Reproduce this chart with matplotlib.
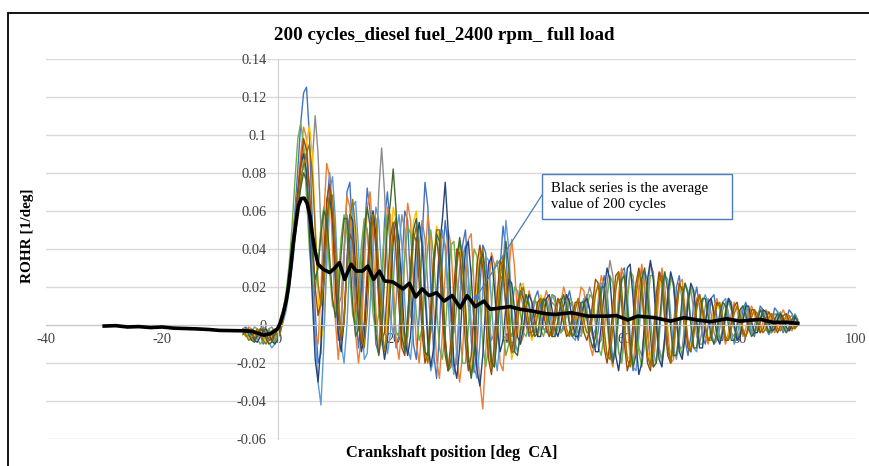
import numpy as np
import matplotlib
matplotlib.use('Agg')
import matplotlib.pyplot as plt
from matplotlib.patches import Rectangle

plt.rcParams['font.family'] = ['Liberation Serif', 'DejaVu Serif']

# crank angle grid of the individual cycles: -6 .. 90 deg every 0.5 deg
crank_start = -6.0
crank_step = 0.5

# individual cycles, ROHR in 1e-3 1/deg (a few of the 200)
cycle_1 = [-2, -1, -4, -8, -6, -2, -5, -10, -8, -3, -4, -8, -6, 2, 8, 14, 26, 42, 60, 82,
           106, 122, 125, 100, 55, 8, -20, -15, 20, 62, 80, 60, 20, -8, -2, 35, 70, 75, 45, 8,
           -12, 5, 45, 72, 60, 22, -10, -15, 15, 55, 70, 50, 12, -12, -5, 30, 60, 55, 20, -10,
           -18, 5, 45, 75, 62, 20, -15, -28, -5, 35, 55, 40, 5, -22, -20, 10, 42, 50, 25, -8,
           -25, -12, 20, 42, 38, 10, -18, -22, 2, 30, 52, 40, 8, -15, -12, 10, 22, 15, 0, -6,
           2, 14, 18, 10, -2, -4, 6, 16, 15, 4, -4, 0, 12, 18, 10, -2, -8, 0, 12, 16,
           8, -6, -12, -2, 16, 26, 18, -4, -18, -12, 10, 28, 30, 10, -14, -24, -8, 18, 30, 20,
           -4, -20, -16, 6, 26, 28, 8, -14, -18, -2, 20, 26, 12, -8, -16, -6, 12, 20, 10, -6,
           -10, 0, 14, 16, 4, -8, -8, 4, 14, 12, 0, -8, -4, 8, 12, 6, -4, -6, 2, 10,
           8, -2, -5, 2, 9, 7, -1, -4, 2, 8, 6, -1, 1]
cycle_2 = [-4, -3, -1, -2, -5, -7, -4, -1, -2, -6, -9, -7, -2, 4, 9, 16, 28, 40, 56, 72,
           90, 104, 98, 70, 30, -5, -10, 18, 58, 85, 78, 40, 2, -18, 0, 40, 68, 62, 28, -5,
           -20, -5, 30, 62, 70, 45, 8, -15, -5, 30, 62, 58, 25, -8, -18, 0, 38, 64, 55, 20,
           -10, -20, 0, 35, 58, 45, 10, -18, -28, -5, 28, 50, 42, 12, -18, -30, -15, 18, 45, 48,
           20, -10, -30, -44, -15, 18, 38, 32, 5, -20, -24, -2, 28, 45, 30, 5, -10, -6, 8, 18,
           12, 0, -6, 0, 12, 18, 12, 2, -4, 2, 12, 20, 14, 2, -6, -2, 10, 20, 18, 4,
           -10, -16, -4, 14, 26, 20, 2, -16, -22, -6, 16, 30, 24, 2, -18, -22, -4, 20, 32, 22,
           0, -18, -22, -4, 18, 30, 20, -2, -20, -18, 4, 22, 24, 8, -10, -14, 0, 14, 16, 6,
           -6, -10, -2, 10, 14, 8, -4, -10, -4, 6, 12, 8, -2, -6, -2, 6, 10, 6, -2, -4,
           2, 8, 6, 0, -4, -1, 5, 8, 4, -2, -3, 2, 1]
cycle_3 = [-3, -5, -6, -4, -1, -2, -5, -8, -6, -2, -1, -4, -7, -3, 3, 10, 20, 34, 50, 66,
           80, 92, 88, 70, 85, 110, 90, 50, 30, 45, 65, 55, 30, 10, 15, 40, 58, 50, 25, 12,
           12, 30, 55, 50, 32, 10, 30, 70, 93, 70, 30, 5, -5, 12, 40, 58, 50, 25, 5, 0,
           18, 42, 55, 45, 20, 0, -8, 8, 32, 48, 42, 20, 2, -4, 10, 30, 40, 30, 10, -4,
           0, 18, 34, 36, 22, 4, -8, -4, 12, 26, 24, 10, -2, -6, 2, 12, 16, 10, 2, 0,
           6, 12, 12, 4, -2, -2, 6, 12, 10, 2, -4, -2, 6, 12, 10, 2, -4, -4, 4, 14,
           20, 14, 0, -10, -8, 6, 22, 34, 26, 4, -14, -20, -4, 16, 28, 22, 4, -12, -16, -2,
           18, 32, 28, 8, -12, -18, -6, 14, 26, 20, 2, -12, -12, 2, 16, 18, 8, -6, -10, -2,
           10, 14, 6, -4, -8, -2, 8, 12, 6, -4, -6, 0, 8, 10, 4, -2, -4, 0, 6, 8,
           4, -2, -3, 2, 6, 5, 0, -3, 0, 4, 5, 2, 1]
cycle_4 = [-2, -4, -7, -8, -5, -2, -3, -6, -9, -8, -5, -3, -4, 0, 6, 12, 22, 34, 48, 64,
           78, 88, 96, 105, 90, 55, 15, -8, 0, 30, 58, 65, 45, 15, -5, 0, 28, 55, 62, 42,
           12, -8, -4, 22, 50, 60, 45, 15, -10, -14, 8, 40, 62, 55, 25, -5, -14, 2, 32, 54,
           60, 40, 8, -16, -18, 4, 34, 52, 45, 18, -10, -22, -12, 14, 38, 44, 28, 0, -20, -22,
           -4, 22, 38, 36, 15, -10, -24, -16, 8, 30, 35, 20, -4, -18, -12, 6, 20, 22, 10, -2,
           -8, -2, 10, 16, 12, 2, -6, -4, 6, 14, 12, 4, -4, -6, 2, 10, 14, 8, 0, -4,
           -2, 8, 18, 20, 10, -6, -16, -12, 4, 20, 26, 16, -4, -18, -16, 0, 18, 26, 18, 0,
           -14, -18, -6, 12, 24, 20, 4, -12, -16, -4, 12, 22, 16, 0, -12, -12, 0, 12, 14, 6,
           -4, -8, -2, 8, 12, 8, -2, -8, -6, 2, 10, 10, 2, -4, -6, 0, 6, 8, 4, -2,
           -4, 0, 5, 6, 2, -2, -2, 2, 5, 4, 0, -2, 0]
cycle_5 = [-3, -2, -4, -7, -9, -6, -2, -1, -4, -9, -12, -10, -6, -2, 2, 8, 18, 30, 44, 60,
           74, 86, 82, 60, 25, -5, -30, -42, -10, 35, 70, 78, 55, 20, -10, -20, 0, 35, 62, 65,
           40, 5, -18, -15, 10, 42, 62, 55, 28, 0, -15, -5, 22, 48, 58, 42, 12, -12, -18, 0,
           30, 52, 50, 25, -5, -24, -18, 8, 36, 50, 40, 12, -14, -26, -14, 12, 35, 42, 26, 0,
           -22, -28, -10, 18, 36, 34, 12, -14, -24, -6, 30, 55, 40, 10, -8, -14, -6, 8, 16, 12,
           2, -4, -4, 4, 12, 14, 8, -2, -6, -2, 8, 14, 12, 2, -6, -8, 0, 10, 14, 8,
           0, -6, -2, 10, 22, 22, 8, -10, -20, -14, 4, 22, 28, 16, -6, -22, -24, -6, 16, 28,
           24, 4, -14, -20, -8, 12, 26, 24, 6, -12, -18, -8, 10, 22, 18, 2, -12, -14, -2, 12,
           16, 10, -2, -10, -8, 2, 12, 14, 6, -4, -10, -6, 4, 10, 10, 2, -4, -4, 2, 8,
           8, 2, -4, -4, 2, 7, 6, 0, -4, -2, 3, 6, 3]
cycle_6 = [-4, -6, -5, -2, -3, -7, -10, -8, -4, -2, -5, -9, -6, 0, 8, 18, 32, 52, 76, 98,
           106, 95, 68, 40, 22, 18, 32, 52, 62, 50, 28, 10, 8, 24, 46, 58, 48, 25, 5, 0,
           18, 42, 56, 50, 28, 6, -4, 6, 28, 50, 58, 42, 15, -4, -6, 12, 35, 52, 48, 28,
           6, -8, -2, 20, 42, 50, 36, 10, -12, -18, -4, 22, 42, 44, 24, -2, -20, -20, -2, 24,
           40, 36, 14, -10, -22, -12, 10, 30, 34, 18, -4, -16, -10, 8, 20, 18, 6, -4, -6, 2,
           10, 14, 8, -2, -6, 0, 10, 16, 12, 2, -4, -2, 8, 14, 12, 4, -4, -6, 0, 8,
           16, 14, 2, -12, -16, -4, 14, 26, 22, 4, -14, -20, -8, 12, 28, 26, 6, -14, -22, -10,
           10, 26, 26, 8, -12, -20, -10, 10, 24, 22, 6, -10, -16, -6, 10, 20, 16, 2, -10, -10,
           2, 12, 14, 6, -4, -8, -2, 8, 12, 8, -2, -6, -4, 4, 10, 8, 0, -4, -2, 4,
           8, 6, 0, -4, -2, 4, 7, 4, -2, -3, 1, 5, 2]
cycle_7 = [-3, -4, -3, -5, -8, -9, -6, -3, -2, -5, -8, -10, -8, -2, 5, 12, 22, 36, 54, 70,
           84, 90, 80, 50, 15, -18, -30, -10, 25, 55, 68, 55, 25, -4, -14, 2, 35, 58, 55, 30,
           2, -14, -6, 20, 48, 60, 48, 20, -6, -18, -8, 18, 44, 56, 44, 18, -6, -16, -6, 18,
           44, 54, 42, 16, -10, -22, -12, 14, 42, 55, 75, 50, 10, -20, -28, -12, 16, 40, 44, 26,
           0, -24, -32, -16, 10, 32, 36, 20, -2, -14, -8, 10, 24, 22, 8, -6, -10, -2, 10, 16,
           12, 2, -6, -6, 4, 14, 16, 8, -2, -6, 0, 10, 16, 12, 2, -6, -6, 2, 12, 14,
           8, -4, -14, -14, 0, 18, 30, 24, 4, -16, -24, -12, 10, 30, 32, 14, -10, -26, -20, 2,
           24, 34, 24, 2, -18, -22, -6, 16, 28, 22, 4, -14, -18, -6, 12, 22, 18, 2, -12, -12,
           0, 12, 14, 6, -6, -10, -4, 6, 14, 10, 0, -8, -6, 2, 10, 10, 2, -4, -4, 2,
           8, 7, 1, -3, -2, 3, 6, 3, -1, -3, 0, 4, 2]
cycle_8 = [-5, -3, -2, -4, -7, -6, -3, -2, -5, -8, -7, -3, -1, 2, 7, 14, 24, 38, 52, 68,
           84, 98, 92, 72, 45, 20, 5, 12, 38, 66, 74, 58, 30, 5, -8, 5, 30, 48, 44, 22,
           0, -10, 2, 28, 52, 58, 40, 12, -8, -4, 20, 46, 54, 38, 10, -12, -16, 4, 30, 48,
           44, 22, -4, -20, -14, 10, 36, 46, 32, 6, -16, -24, -8, 20, 40, 38, 16, -10, -24, -16,
           8, 32, 42, 30, 4, -18, -26, -10, 16, 34, 30, 10, -8, -14, -4, 10, 18, 14, 4, -4,
           -4, 4, 12, 14, 6, -2, -6, -2, 8, 14, 10, 0, -6, -4, 4, 12, 12, 4, -4, -8,
           -2, 12, 24, 22, 6, -12, -20, -10, 10, 26, 28, 12, -10, -24, -18, 2, 22, 30, 20, -2,
           -20, -24, -6, 16, 28, 22, 2, -16, -20, -6, 12, 22, 18, 2, -12, -14, -2, 12, 16, 8,
           -2, -8, -6, 4, 12, 10, 0, -8, -8, 0, 10, 12, 4, -4, -6, 0, 8, 8, 2, -4,
           -2, 4, 7, 4, -1, -4, 0, 5, 6, 2, -2, -1, 1]
cycle_9 = [-2, -5, -8, -7, -4, -2, -4, -8, -10, -7, -3, -2, -6, -4, 4, 11, 20, 32, 46, 62,
           76, 84, 90, 95, 80, 50, 22, 10, 22, 48, 70, 68, 42, 12, -6, 2, 30, 56, 66, 50,
           20, -6, -12, 6, 36, 58, 56, 30, 0, -14, -4, 26, 52, 56, 34, 6, -10, -6, 20, 44,
           52, 36, 8, -14, -20, -2, 28, 50, 50, 26, -6, -24, -22, 2, 30, 44, 36, 10, -16, -26,
           -14, 12, 34, 40, 24, -4, -22, -20, 0, 24, 36, 26, 2, -14, -14, 0, 16, 20, 12, 0,
           -6, -4, 6, 14, 12, 4, -4, -6, 2, 12, 14, 8, -2, -6, -2, 8, 14, 10, 2, -4,
           -4, 4, 16, 22, 14, -2, -16, -18, -2, 18, 28, 20, 0, -18, -22, -6, 14, 28, 24, 4,
           -16, -22, -12, 8, 24, 26, 10, -10, -20, -12, 6, 20, 20, 6, -8, -14, -6, 8, 16, 10,
           0, -8, -8, 2, 10, 12, 4, -6, -8, -2, 6, 10, 6, -2, -6, -2, 4, 8, 6, 0,
           -4, -2, 4, 6, 3, -2, -3, 1, 5, 5, 1, -2, 0]
cycle_10 = [-3, -2, -5, -8, -9, -5, -2, -3, -7, -10, -9, -5, -2, 1, 6, 12, 21, 33, 47, 61,
            72, 80, 76, 60, 38, 24, 30, 48, 60, 56, 36, 14, 4, 14, 38, 56, 56, 36, 10, -6,
            -2, 20, 48, 62, 52, 24, -4, -16, -4, 24, 52, 64, 82, 60, 22, -6, -14, 2, 28, 50,
            56, 38, 8, -14, -16, 2, 30, 48, 44, 20, -8, -24, -18, 6, 34, 46, 34, 8, -18, -28,
            -16, 10, 32, 38, 24, -2, -20, -22, -6, 14, 28, 44, 30, 4, -14, -16, -4, 10, 16, 10,
            0, -6, -4, 6, 14, 12, 2, -6, -6, 2, 12, 16, 10, 0, -6, -4, 4, 12, 12, 4,
            -6, -12, -6, 8, 20, 20, 6, -12, -20, -10, 8, 24, 26, 10, -10, -22, -16, 4, 24, 30,
            16, -6, -22, -20, -2, 18, 28, 18, -2, -16, -16, -2, 14, 22, 16, 0, -12, -12, 2, 14,
            14, 4, -6, -10, -4, 6, 12, 10, 0, -8, -8, 0, 8, 10, 6, -2, -6, -4, 2, 8,
            6, 0, -4, -2, 3, 6, 4, -1, -4, -1, 3, 5, 2]

cycles = [cycle_1, cycle_2, cycle_3, cycle_4, cycle_5, cycle_6, cycle_7,
          cycle_8, cycle_9, cycle_10]
cycle_colors = ['#4472C4', '#ED7D31', '#8C8C8C', '#FFC000', '#5B9BD5', '#70AD47',
                '#264478', '#9E480E', '#997300', '#43682B']

# average of the 200 cycles (black series), 1e-3 1/deg
mean_x = [-30, -28, -26, -24, -22, -20, -18, -16, -14, -12, -10, -8, -6, -4.5, -3.5, -2.4,
          -1.2, 0, 0.5, 1.0, 1.5, 1.9, 2.3, 2.7, 3.2, 3.6, 4.1, 4.6, 5.1, 5.6, 6.0, 6.4,
          7.0, 7.9, 9.0, 9.9, 10.7, 11.6, 12.7, 13.6, 14.7, 15.6, 16.6, 17.6, 18.5, 19.9,
          21.0, 21.7, 22.8, 23.9, 25.0, 26.2, 27.5, 28.8, 30.2, 31.6, 32.8, 34.2, 35.7,
          36.8, 38.5, 40.2, 42.0, 44.0, 46.3, 48.0, 50.8, 53.7, 57.1, 58.6, 60.6, 62.3,
          65.2, 68.0, 70.3, 72.6, 74.9, 77.7, 80.0, 83.5, 85.8, 88.0, 90.0]
mean_y = [-0.5, -0.3, -1.0, -0.8, -1.3, -1.0, -1.6, -1.8, -2.0, -2.3, -2.8, -2.9, -3.0, -3.2,
          -4.2, -5.3, -4.5, -2.0, 1.5, 6.5, 13, 20.5, 31, 43, 54, 62.6, 66.5, 66.7, 64, 57.4,
          48, 40, 32, 29.3, 27.6, 30, 32.8, 24, 32, 28.4, 28.4, 31, 24, 28.4, 23.2, 22.7,
          20.5, 19, 22, 14.8, 19, 15.5, 17, 12.6, 15.5, 9.1, 15.5, 9.7, 12.6, 8.3, 9.0, 9.7,
          8.3, 7.4, 6.0, 5.6, 6.5, 4.7, 4.7, 5.0, 2.7, 4.7, 3.9, 2.1, 3.9, 2.7, 1.8, 3.3,
          2.1, 3.0, 1.4, 1.5, 0.9]

x_ticks = [-40, -20, 0, 20, 40, 60, 80, 100]
y_ticks = [-0.06, -0.04, -0.02, 0, 0.02, 0.04, 0.06, 0.08, 0.1, 0.12, 0.14]

title = '200 cycles_diesel fuel_2400 rpm_ full load'
x_label = 'Crankshaft position [deg  CA]'
y_label = 'ROHR [1/deg]'
note_lines = ['Black series is the average', 'value of 200 cycles']
note_point = (34.4, 0.0149)

W, H = 869, 466
fig = plt.figure(figsize=(W / 100, H / 100), dpi=100)
ax = fig.add_axes([46.4 / W, (H - 439.3) / H, 809.2 / W, 380.7 / H])

for cyc, col in zip(cycles, cycle_colors):
    xs = crank_start + crank_step * np.arange(len(cyc))
    ax.plot(xs, np.array(cyc) / 1000, color=col, lw=1.0, solid_joinstyle='round')

ax.plot(mean_x, np.array(mean_y) / 1000, color='black', lw=2.6, zorder=5)

ax.set_xlim(-40, 100)
ax.set_ylim(-0.06, 0.14)
ax.set_xticks(x_ticks)
ax.set_yticks(y_ticks)
ax.set_yticklabels([f'{round(v, 2):g}' for v in y_ticks])
ax.set_xticklabels([str(v) for v in x_ticks])

for side in ['top', 'right']:
    ax.spines[side].set_visible(False)
ax.spines['left'].set_position(('data', 0))
ax.spines['bottom'].set_position(('data', 0))
ax.spines['left'].set_color('#D0D0D0')
ax.spines['bottom'].set_color('#C8C8C8')
ax.grid(axis='y', color='#D9D9D9', lw=1.0)
ax.set_axisbelow(True)
ax.tick_params(axis='both', length=0, labelsize=10.4, labelcolor='#404040')
ax.tick_params(axis='y', pad=8)
ax.tick_params(axis='x', pad=6)

# connector of the callout
ax.annotate('', xy=note_point, xycoords='data',
            xytext=(542 / W, 1 - 195 / H), textcoords='figure fraction',
            arrowprops=dict(arrowstyle='-', color='#4A7EBB', lw=0.9,
                            shrinkA=0, shrinkB=0), zorder=6)
ax.plot(*note_point, 'o', color='#4A7EBB', ms=3, zorder=6)

fig.add_artist(Rectangle((542 / W, 1 - 218.5 / H), 190 / W, 44.5 / H,
                         transform=fig.transFigure, facecolor='white',
                         edgecolor='#4A7EBB', lw=1.0, zorder=10))
for line, base in zip(note_lines, [192.3, 207.7]):
    fig.text(551 / W, 1 - base / H, line, fontsize=10.6, va='baseline', ha='left',
             zorder=11)

fig.text(444 / W, 1 - 40.5 / H, title, fontsize=13.7, fontweight='bold',
         ha='center', va='baseline')
fig.text(452 / W, 1 - 453 / H, x_label, fontsize=11.8, fontweight='bold',
         ha='center', va='center')
fig.text(27 / W, 1 - 236 / H, y_label, fontsize=11, fontweight='bold',
         ha='center', va='center', rotation=90)

# outer frame of the chart area
fig.add_artist(Rectangle((8 / W, -0.05), 1.0, (H - 13) / H + 0.05,
                         transform=fig.transFigure, fill=False,
                         edgecolor='black', lw=1.3))

fig.savefig('out.png', dpi=100)
